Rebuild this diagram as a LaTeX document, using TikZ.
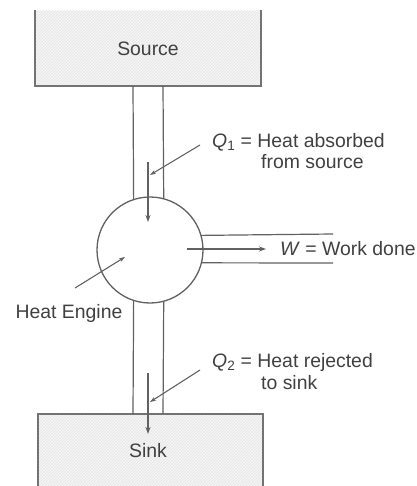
\documentclass[tikz,border=0pt]{standalone}
\usepackage{fontspec}
\setmainfont{Liberation Sans}
\usetikzlibrary{patterns,arrows.meta}
\tikzset{
  ln/.style={draw=black!62, line width=1.2pt},
  edge/.style={draw=black!55, line width=1.6pt},
  arr/.style={ln, -{Stealth[length=7pt,width=5pt]}},
  lead/.style={draw=black!62, line width=1.1pt, -{Stealth[length=6pt,width=4pt]}},
  lbl/.style={font=\fontsize{19.4}{22}\selectfont, text=black!75, inner sep=0pt},
  engine/.style={circle, draw=black!62, line width=1.3pt, minimum size=106pt, inner sep=0pt, outer sep=0pt},
  resfill/.style={fill=black!4},
  reshatch/.style={pattern=north east lines, pattern color=black!11}
}
\begin{document}
\begin{tikzpicture}[x=1pt,y=-1pt]
\useasboundingbox (0,0) rectangle (416,486);
% reservoirs
\fill[resfill] (35,11) rectangle (261,86);
\fill[reshatch] (35,11) rectangle (261,86);
\draw[edge] (35,10) -- (35,86) -- (261,86) -- (261,10);
\fill[resfill] (38,414) rectangle (263,486);
\fill[reshatch] (38,414) rectangle (263,486);
\draw[edge] (38,486) -- (38,414) -- (263,414) -- (263,486);
\node[lbl] (source) at (148,49) {Source};
\node[lbl] (sink) at (148,451) {Sink};
% engine
\node[engine] (engine) at (150,250) {};
% pipes
\draw[ln] (133,86) -- (engine.108.7);
\draw[ln] (163,86) -- (engine.75.8);
\draw[ln] (engine.-108.7) -- (133,414);
\draw[ln] (engine.-75.8) -- (163,414);
% work lines
\coordinate (wt) at (333,234);
\coordinate (wb) at (333,263);
\draw[ln] (engine.16.9) -- (wt);
\draw[ln] (engine.-14.2) -- (wb);
\node[lbl, anchor=west] (wlab) at (280,249) {\textit{W} = Work done};
\coordinate (wstart) at (187,249);
\coordinate (wtip) at (266,249);
\draw[arr] (wstart) -- (wtip);
% Q1
\coordinate (q1top) at (148,162);
\coordinate (q1tip) at (148,222);
\draw[arr] (q1top) -- (q1tip);
\node[lbl, anchor=west] (q1) at (212,142) {\textit{Q}\textsubscript{1} = Heat absorbed};
\node[lbl, anchor=west] (q1b) at (261,162) {from source};
\coordinate (q1from) at (200,145);
\coordinate (q1hit) at (150,175);
\draw[lead] (q1from) -- (q1hit);
% Q2
\coordinate (q2top) at (148,373);
\coordinate (q2tip) at (148,434);
\draw[arr] (q2top) -- (q2tip);
\node[lbl, anchor=west] (q2) at (212,362) {\textit{Q}\textsubscript{2} = Heat rejected};
\node[lbl, anchor=west] (q2b) at (261,383) {to sink};
\coordinate (q2from) at (200,370);
\coordinate (q2hit) at (150,402);
\draw[lead] (q2from) -- (q2hit);
% heat engine label
\node[lbl] (helab) at (69,313) {Heat Engine};
\coordinate (hefrom) at (75,288);
\coordinate (hetip) at (125,257);
\draw[lead] (hefrom) -- (hetip);
\end{tikzpicture}
\end{document}
